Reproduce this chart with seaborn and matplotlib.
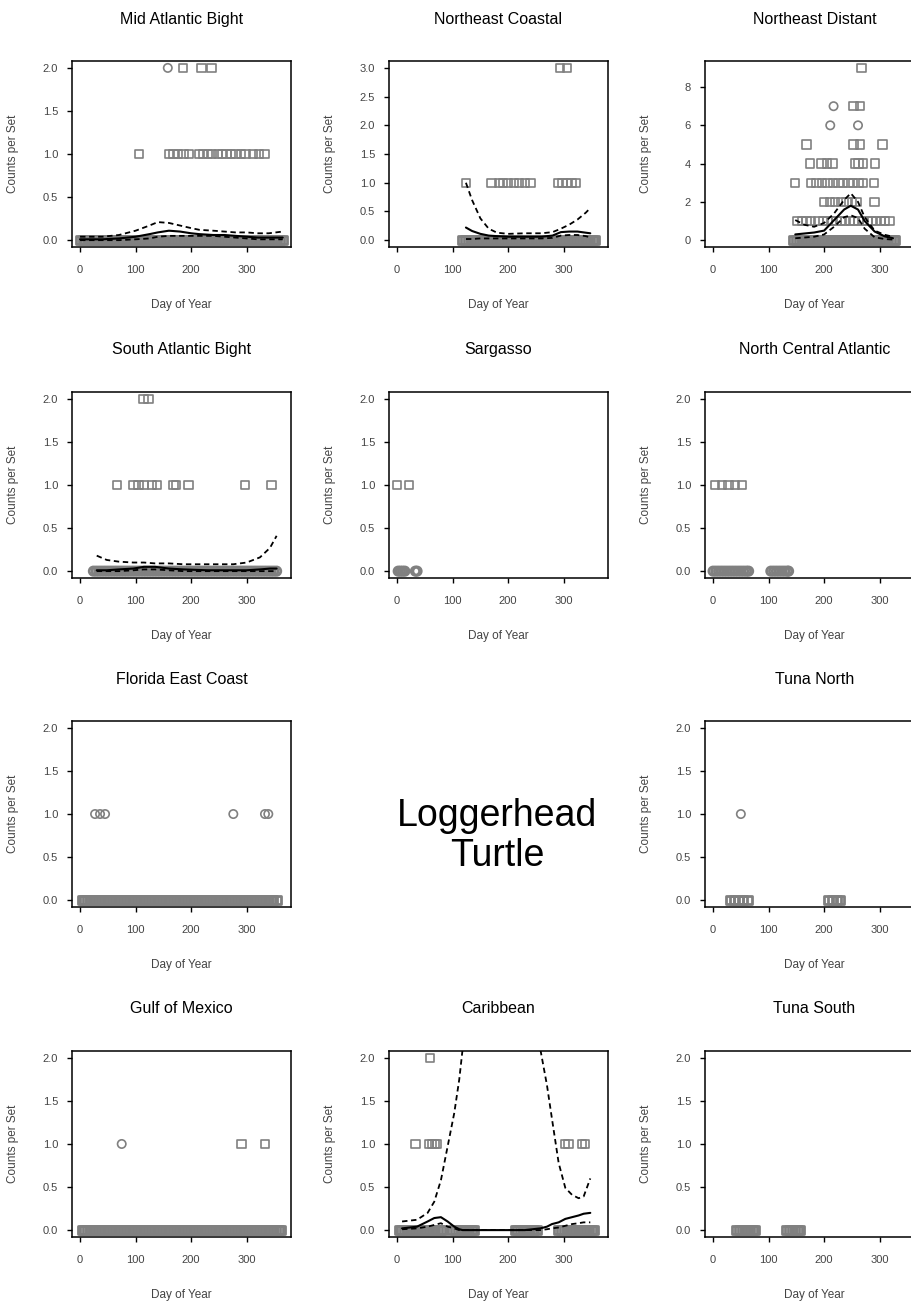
import matplotlib.pyplot as plt
import seaborn as sns
import pandas as pd

GRAY = "#808080"

# ---------------- Mid Atlantic Bight ----------------
mab_zero_day = [0, 5, 10, 15, 20, 25, 30, 35, 40, 45, 50, 55, 60, 65, 70, 75, 80, 85, 90, 95,
                100, 105, 110, 115, 120, 125, 130, 135, 140, 145, 150, 155, 160, 165, 170, 175,
                180, 185, 190, 195, 200, 205, 210, 215, 220, 225, 230, 235, 240, 245, 250, 255,
                260, 265, 270, 275, 280, 285, 290, 295, 300, 305, 310, 315, 320, 325, 330, 335,
                340, 345, 350, 355, 360, 365]
mab_sq_day = [185, 219, 237, 106, 160, 168, 176, 186, 196, 214, 222, 230, 238, 248, 256, 264,
              272, 280, 290, 298, 312, 322, 332]
mab_sq_cnt = [2, 2, 2, 1, 1, 1, 1, 1, 1, 1, 1, 1, 1, 1, 1, 1, 1, 1, 1, 1, 1, 1, 1]
mab_ci_day = [158]
mab_ci_cnt = [2]
mab_fit_day = [0, 40, 70, 100, 125, 140, 160, 180, 200, 215, 240, 260, 280, 300, 320, 340, 365]
mab_fit_mean = [0.01, 0.01, 0.02, 0.04, 0.07, 0.09, 0.11, 0.10, 0.08, 0.07, 0.06, 0.06, 0.05, 0.04, 0.03, 0.03, 0.03]
mab_fit_hi = [0.04, 0.04, 0.06, 0.11, 0.17, 0.21, 0.20, 0.17, 0.14, 0.12, 0.11, 0.10, 0.09, 0.09, 0.08, 0.08, 0.10]
mab_fit_lo = [0.0, 0.0, 0.0, 0.01, 0.02, 0.04, 0.05, 0.05, 0.05, 0.05, 0.05, 0.04, 0.03, 0.02, 0.01, 0.01, 0.01]

# ---------------- Northeast Coastal ----------------
nec_zero_day = [118, 123, 128, 133, 138, 143, 148, 153, 158, 163, 168, 173, 178, 183, 188, 193,
                198, 203, 208, 213, 218, 223, 228, 233, 238, 243, 248, 253, 258, 263, 268, 273,
                278, 283, 288, 293, 298, 303, 308, 313, 318, 323, 328, 333, 338, 343, 348, 353, 356]
nec_sq_day = [294, 306, 124, 170, 183, 191, 200, 210, 220, 230, 240, 290, 298, 306, 314, 322]
nec_sq_cnt = [3, 3, 1, 1, 1, 1, 1, 1, 1, 1, 1, 1, 1, 1, 1, 1]
nec_fit_day = [124, 135, 150, 165, 180, 200, 230, 260, 280, 295, 310, 325, 340, 348]
nec_fit_mean = [0.22, 0.16, 0.11, 0.08, 0.07, 0.06, 0.06, 0.06, 0.08, 0.14, 0.15, 0.15, 0.13, 0.12]
nec_fit_hi = [1.0, 0.7, 0.38, 0.2, 0.13, 0.11, 0.12, 0.12, 0.14, 0.2, 0.27, 0.36, 0.48, 0.56]
nec_fit_lo = [0.02, 0.02, 0.03, 0.03, 0.03, 0.03, 0.03, 0.03, 0.04, 0.08, 0.09, 0.09, 0.07, 0.05]

# ---------------- Northeast Distant ----------------
ned_zero_day = [145, 150, 155, 160, 165, 170, 175, 180, 185, 190, 195, 200, 205, 210, 215, 220,
                225, 230, 235, 240, 245, 250, 255, 260, 265, 270, 275, 280, 285, 290, 295, 300,
                305, 310, 315, 320, 325, 327]
ned_sq_day = [267, 253, 265, 168, 253, 265, 305,
              174, 195, 205, 215, 255, 262, 270, 292,
              148, 176, 186, 196, 206, 216, 226, 234, 244, 252, 262, 270, 290,
              200, 210, 220, 230, 240, 250, 258, 291,
              152, 160, 168, 176, 190, 198, 206, 214, 222, 230, 238, 246, 254, 262, 270, 278,
              286, 294, 302, 310, 318]
ned_sq_cnt = [9, 7, 7, 5, 5, 5, 5,
              4, 4, 4, 4, 4, 4, 4, 4,
              3, 3, 3, 3, 3, 3, 3, 3, 3, 3, 3, 3, 3,
              2, 2, 2, 2, 2, 2, 2, 2,
              1, 1, 1, 1, 1, 1, 1, 1, 1, 1, 1, 1, 1, 1, 1, 1,
              1, 1, 1, 1, 1]
ned_ci_day = [217, 211, 261]
ned_ci_cnt = [7, 6, 6]
ned_fit_day = [148, 165, 182, 200, 218, 236, 248, 261, 273, 291, 309, 324]
ned_fit_mean = [0.3, 0.35, 0.4, 0.5, 1.05, 1.6, 1.8, 1.6, 1.0, 0.45, 0.2, 0.1]
ned_fit_hi = [1.05, 0.8, 0.7, 0.9, 1.4, 2.1, 2.45, 2.0, 1.2, 0.5, 0.28, 0.18]
ned_fit_lo = [0.1, 0.14, 0.18, 0.3, 0.7, 1.2, 1.3, 1.15, 0.6, 0.15, 0.06, 0.03]

# ---------------- South Atlantic Bight ----------------
sab_zero_day = [24, 29, 34, 39, 44, 49, 54, 59, 64, 69, 74, 79, 84, 89, 94, 99, 104, 109, 114,
                119, 124, 129, 134, 139, 144, 149, 154, 159, 164, 169, 174, 179, 184, 189, 194,
                199, 204, 209, 214, 219, 224, 229, 234, 239, 244, 249, 254, 259, 264, 269, 274,
                279, 284, 289, 294, 299, 304, 309, 314, 319, 324, 329, 334, 339, 344, 349, 354]
sab_sq_day = [114, 123, 66, 96, 105, 115, 130, 138, 168, 173, 195, 297, 345]
sab_sq_cnt = [2, 2, 1, 1, 1, 1, 1, 1, 1, 1, 1, 1, 1]
sab_fit_day = [30, 48, 70, 96, 115, 135, 160, 186, 230, 276, 300, 324, 342, 354]
sab_fit_mean = [0.01, 0.01, 0.02, 0.03, 0.05, 0.05, 0.03, 0.02, 0.01, 0.01, 0.01, 0.02, 0.03, 0.03]
sab_fit_hi = [0.18, 0.13, 0.11, 0.1, 0.1, 0.09, 0.09, 0.08, 0.08, 0.08, 0.1, 0.16, 0.27, 0.41]
sab_fit_lo = [0.0, 0.0, 0.0, 0.01, 0.02, 0.02, 0.01, 0.0, 0.0, 0.0, 0.0, 0.0, 0.0, 0.0]

# ---------------- Sargasso ----------------
sar_zero_day = [2, 6, 10, 14, 33, 36]
sar_sq_day = [0, 21]
sar_sq_cnt = [1, 1]

# ---------------- North Central Atlantic ----------------
nca_zero_day = [0, 5, 10, 15, 20, 25, 30, 35, 40, 45, 50, 55, 60, 64,
                104, 109, 114, 119, 124, 129, 134, 136]
nca_sq_day = [4, 16, 28, 40, 52]
nca_sq_cnt = [1, 1, 1, 1, 1]

# ---------------- Florida East Coast ----------------
fec_zero_day = [3, 8, 13, 18, 23, 28, 33, 38, 43, 48, 53, 58, 63, 68, 73, 78, 83, 88, 93, 98,
                103, 108, 113, 118, 123, 128, 133, 138, 143, 148, 153, 158, 163, 168, 173, 178,
                183, 188, 193, 198, 203, 208, 213, 218, 223, 228, 233, 238, 243, 248, 253, 258,
                263, 268, 273, 278, 283, 288, 293, 298, 303, 308, 313, 318, 323, 328, 333, 338,
                343, 348, 354]
fec_ci_day = [27, 36, 45, 276, 333, 339]
fec_ci_cnt = [1, 1, 1, 1, 1, 1]

# ---------------- Tuna North ----------------
tun_zero_day = [30, 38, 46, 54, 62, 208, 215, 222, 229]
tun_ci_day = [50]
tun_ci_cnt = [1]

# ---------------- Gulf of Mexico ----------------
gom_zero_day = [3, 8, 13, 18, 23, 28, 33, 38, 43, 48, 53, 58, 63, 68, 73, 78, 83, 88, 93, 98,
                103, 108, 113, 118, 123, 128, 133, 138, 143, 148, 153, 158, 163, 168, 173, 178,
                183, 188, 193, 198, 203, 208, 213, 218, 223, 228, 233, 238, 243, 248, 253, 258,
                263, 268, 273, 278, 283, 288, 293, 298, 303, 308, 313, 318, 323, 328, 333, 338,
                343, 348, 353, 358, 362]
gom_sq_day = [291, 333]
gom_sq_cnt = [1, 1]
gom_ci_day = [75]
gom_ci_cnt = [1]

# ---------------- Caribbean ----------------
car_zero_day = [3, 8, 13, 18, 23, 28, 33, 38, 43, 48, 53, 58, 63, 68, 73, 78, 82,
                100, 105, 110, 115, 120, 125, 130, 135, 139,
                212, 217, 222, 227, 232, 237, 242, 247, 252,
                291, 296, 301, 306, 311, 315,
                321, 326, 331, 336, 341, 346, 351, 355]
car_sq_day = [59, 33, 58, 63, 68, 72, 303, 309, 333, 339]
car_sq_cnt = [2, 1, 1, 1, 1, 1, 1, 1, 1, 1]
car_fit_day = [9, 36, 55, 67, 79, 91, 103, 112, 118, 150, 190, 230, 258, 270, 279, 291, 303,
               315, 327, 336, 348]
car_fit_mean = [0.02, 0.04, 0.1, 0.14, 0.15, 0.1, 0.04, 0.01, 0.0, 0.0, 0.0, 0.0, 0.02, 0.04,
                0.07, 0.09, 0.13, 0.15, 0.17, 0.19, 0.2]
car_fit_hi = [0.1, 0.12, 0.2, 0.33, 0.58, 0.97, 1.36, 1.75, 2.1, 3.5, 4.2, 3.5, 2.1, 1.68,
              1.29, 0.78, 0.49, 0.41, 0.37, 0.39, 0.6]
car_fit_lo = [0.01, 0.02, 0.04, 0.06, 0.08, 0.04, 0.02, 0.0, 0.0, 0.0, 0.0, 0.0, 0.0, 0.01,
              0.02, 0.03, 0.05, 0.07, 0.08, 0.09, 0.09]

# ---------------- Tuna South ----------------
tus_zero_day = [42, 47, 52, 57, 62, 67, 72, 76, 132, 137, 142, 147, 152, 156]

X_TICKS = [0, 100, 200, 300]
Y_TICKS_2 = [0.0, 0.5, 1.0, 1.5, 2.0]
Y_TICKS_3 = [0.0, 0.5, 1.0, 1.5, 2.0, 2.5, 3.0]
Y_TICKS_9 = [0, 2, 4, 6, 8]

sns.set_style("ticks")
plt.rcParams["font.family"] = ["Liberation Sans", "DejaVu Sans"]

fig = plt.figure(figsize=(9.12, 13.01), dpi=100)

col_left = [0.0789, 0.4265, 0.7730]
row_bottom = [0.8101, 0.5557, 0.3028, 0.0492]
AX_W, AX_H = 0.240, 0.143


def scatter(ax, days, counts, marker, lw=1.2):
    if len(days) == 0:
        return
    df = pd.DataFrame({"day": days, "count": counts})
    sns.scatterplot(data=df, x="day", y="count", marker=marker, s=36,
                    facecolor="none", edgecolor=GRAY, linewidth=lw, ax=ax, zorder=2)


def fit_lines(ax, days, mean, lo, hi):
    df = pd.DataFrame({"day": days, "mean": mean, "lo": lo, "hi": hi})
    sns.lineplot(data=df, x="day", y="hi", color="black", linestyle=(0, (3, 2)),
                 linewidth=1.3, ax=ax, zorder=3)
    sns.lineplot(data=df, x="day", y="mean", color="black", linewidth=1.5, ax=ax, zorder=3)
    sns.lineplot(data=df, x="day", y="lo", color="black", linestyle=(0, (3, 2)),
                 linewidth=1.3, ax=ax, zorder=3)


def panel(row, col, title, ymax, yticks, yfmt, zero_days, zero_marker,
          sq=None, ci=None, fit=None):
    ax = fig.add_axes([col_left[col], row_bottom[row], AX_W, AX_H])
    # zero-catch sets overlap into a solid grey band
    scatter(ax, zero_days, [0] * len(zero_days), zero_marker, lw=2.0)
    if sq is not None:
        scatter(ax, sq[0], sq[1], "s")
    if ci is not None:
        scatter(ax, ci[0], ci[1], "o")
    if fit is not None:
        fit_lines(ax, *fit)
    pad = ymax * 0.04
    ax.set_xlim(-14.6, 379.6)
    ax.set_ylim(-pad, ymax + pad)
    ax.set_xticks(X_TICKS)
    ax.set_xticklabels([str(t) for t in X_TICKS])
    ax.set_yticks(yticks)
    ax.set_yticklabels([yfmt.format(t) for t in yticks])
    ax.tick_params(axis="both", direction="out", length=3.5, width=1.0,
                   labelsize=8, labelcolor="#444444", color="black")
    ax.tick_params(axis="x", pad=9.5)
    ax.tick_params(axis="y", pad=6.5)
    for sp in ax.spines.values():
        sp.set_visible(True)
        sp.set_color("black")
        sp.set_linewidth(1.1)
    ax.set_xlabel("Day of Year", fontsize=8.5, color="#444444")
    ax.set_ylabel("Counts per Set", fontsize=8.5, color="#444444")
    ax.xaxis.set_label_coords(0.5, -0.28)
    ax.yaxis.set_label_coords(-0.24, 0.5)
    ax.set_title(title, fontsize=11.5, pad=27, color="black")
    return ax


panel(0, 0, "Mid Atlantic Bight", 2, Y_TICKS_2, "{:.1f}", mab_zero_day, "s",
      sq=(mab_sq_day, mab_sq_cnt), ci=(mab_ci_day, mab_ci_cnt),
      fit=(mab_fit_day, mab_fit_mean, mab_fit_lo, mab_fit_hi))
panel(0, 1, "Northeast Coastal", 3, Y_TICKS_3, "{:.1f}", nec_zero_day, "s",
      sq=(nec_sq_day, nec_sq_cnt),
      fit=(nec_fit_day, nec_fit_mean, nec_fit_lo, nec_fit_hi))
panel(0, 2, "Northeast Distant", 9, Y_TICKS_9, "{:.0f}", ned_zero_day, "s",
      sq=(ned_sq_day, ned_sq_cnt), ci=(ned_ci_day, ned_ci_cnt),
      fit=(ned_fit_day, ned_fit_mean, ned_fit_lo, ned_fit_hi))

panel(1, 0, "South Atlantic Bight", 2, Y_TICKS_2, "{:.1f}", sab_zero_day, "o",
      sq=(sab_sq_day, sab_sq_cnt),
      fit=(sab_fit_day, sab_fit_mean, sab_fit_lo, sab_fit_hi))
panel(1, 1, "Sargasso", 2, Y_TICKS_2, "{:.1f}", sar_zero_day, "o",
      sq=(sar_sq_day, sar_sq_cnt))
panel(1, 2, "North Central Atlantic", 2, Y_TICKS_2, "{:.1f}", nca_zero_day, "o",
      sq=(nca_sq_day, nca_sq_cnt))

panel(2, 0, "Florida East Coast", 2, Y_TICKS_2, "{:.1f}", fec_zero_day, "s",
      ci=(fec_ci_day, fec_ci_cnt))
panel(2, 2, "Tuna North", 2, Y_TICKS_2, "{:.1f}", tun_zero_day, "s",
      ci=(tun_ci_day, tun_ci_cnt))

panel(3, 0, "Gulf of Mexico", 2, Y_TICKS_2, "{:.1f}", gom_zero_day, "s",
      sq=(gom_sq_day, gom_sq_cnt), ci=(gom_ci_day, gom_ci_cnt))
panel(3, 1, "Caribbean", 2, Y_TICKS_2, "{:.1f}", car_zero_day, "s",
      sq=(car_sq_day, car_sq_cnt),
      fit=(car_fit_day, car_fit_mean, car_fit_lo, car_fit_hi))
panel(3, 2, "Tuna South", 2, Y_TICKS_2, "{:.1f}", tus_zero_day, "s")

fig.text(0.545, 1 - 836 / 1301, "Loggerhead\nTurtle", ha="center", va="center",
         fontsize=27, linespacing=1.15, color="black")

fig.savefig("out.png", dpi=100, facecolor="white")
